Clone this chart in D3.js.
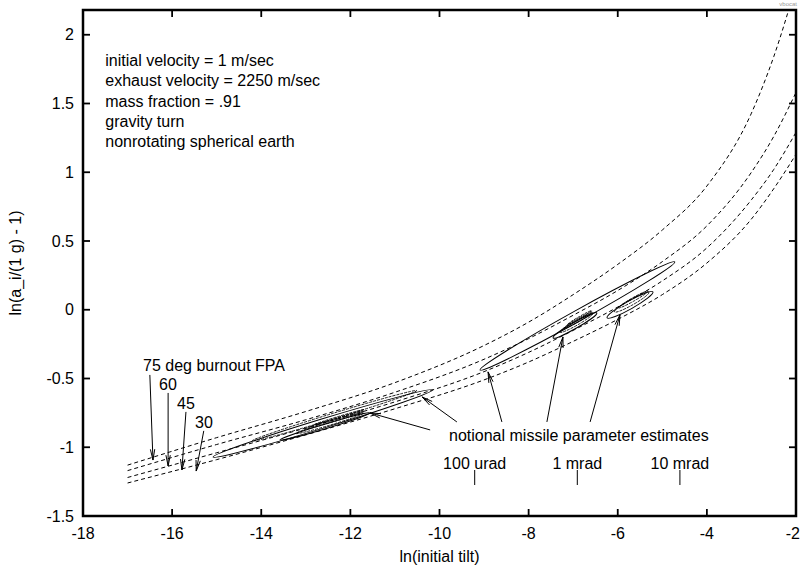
<!DOCTYPE html>
<html><head><meta charset="utf-8">
<script src="https://cdn.jsdelivr.net/npm/d3@7"></script>
<style>body{margin:0;background:#fff}text{font-family:"Liberation Sans",Arial,sans-serif}</style>
</head><body><svg id="c" width="800" height="569"></svg>
<script>
// ---- data ----
const xTicks = [-18,-16,-14,-12,-10,-8,-6,-4,-2];
const yTicks = [-1.5,-1,-0.5,0,0.5,1,1.5,2];
const curveX = [-17,-15,-13,-11,-9,-8,-7,-6,-5,-4,-3,-2.5,-2];
const fpa75 = [-1.13,-0.93,-0.74,-0.53,-0.26,-0.09,0.11,0.33,0.58,0.90,1.43,1.84,2.36];
const fpa60 = [-1.17,-0.98,-0.80,-0.60,-0.36,-0.21,-0.04,0.14,0.35,0.61,1.00,1.26,1.58];
const fpa45 = [-1.22,-1.04,-0.86,-0.67,-0.45,-0.31,-0.15,0.02,0.21,0.45,0.80,1.02,1.29];
const fpa30 = [-1.26,-1.09,-0.91,-0.72,-0.51,-0.38,-0.23,-0.07,0.11,0.34,0.66,0.88,1.13];
const fpaLabels = ["75 deg burnout FPA","60","45","30"];
// arrows for FPA labels: tail -> head (data coords)
const fpaTailX = [-16.50,-16.09,-15.69,-15.29];
const fpaTailY = [-0.474,-0.605,-0.743,-0.881];
const fpaHeadX = [-16.43,-16.09,-15.78,-15.46];
const fpaHeadY = [-1.093,-1.136,-1.165,-1.173];
// missile parameter estimate ellipses: end points (data) and minor/major ratio
const ellX1 = [-15.08,-13.58,-9.09,-7.45,-6.24];
const ellY1 = [-1.071,-0.947,-0.438,-0.205,-0.059];
const ellX2 = [-10.15,-11.56,-4.72,-6.47,-5.21];
const ellY2 = [-0.583,-0.750,0.348,-0.023,0.130];
const ellRatio = [0.04,0.05,0.05,0.12,0.15];
const ellInner = [1,3,0,3,2];
// arrows from "notional missile parameter estimates"
const estTailX = [-10.21,-9.61,-8.60,-7.59,-6.62];
const estTailY = [-0.874,-0.816,-0.816,-0.816,-0.816];
const estHeadX = [-11.56,-10.39,-8.91,-7.23,-5.95];
const estHeadY = [-0.750,-0.634,-0.452,-0.198,-0.037];
// angular marks
const markLabels = ["100 urad","1 mrad","10 mrad"];
const markValues = [1e-4,1e-3,1e-2];
const notes = ["initial velocity = 1 m/sec","exhaust velocity = 2250 m/sec","mass fraction = .91","gravity turn","nonrotating spherical earth"];

// ---- layout ----
const FS = 16;
const svg = d3.select("#c");
const L=83,R=796,T=10,B=516;
const x = d3.scaleLinear().domain([-18,-2]).range([L,R]);
const y = d3.scaleLinear().domain([-1.5,2.18]).range([B,T]);

svg.append("defs").append("clipPath").attr("id","clip")
  .append("rect").attr("x",L).attr("y",T).attr("width",R-L).attr("height",B-T);

// ticks (inward on all four sides)
const tk=7;
const g = svg.append("g").attr("stroke","#000").attr("stroke-width",1.8);
xTicks.forEach(v=>{
  g.append("line").attr("x1",x(v)).attr("x2",x(v)).attr("y1",B).attr("y2",B-tk);
  g.append("line").attr("x1",x(v)).attr("x2",x(v)).attr("y1",T).attr("y2",T+tk);
});
yTicks.forEach(v=>{
  g.append("line").attr("x1",L).attr("x2",L+tk).attr("y1",y(v)).attr("y2",y(v));
  g.append("line").attr("x1",R).attr("x2",R-tk).attr("y1",y(v)).attr("y2",y(v));
});
svg.selectAll(".xl").data(xTicks).enter().append("text")
  .attr("x",d=>d===-2?800:x(d)).attr("y",B+23)
  .attr("text-anchor",d=>d===-2?"end":"middle").attr("font-size",FS)
  .text(d=>d);
svg.selectAll(".yl").data(yTicks).enter().append("text")
  .attr("x",L-9).attr("y",d=>y(d)+5.5).attr("text-anchor","end").attr("font-size",FS)
  .text(d=>d);

svg.append("text").attr("x",(L+R)/2).attr("y",562).attr("text-anchor","middle")
  .attr("font-size",FS).text("ln(initial tilt)");
svg.append("text").attr("transform",`translate(21,${(T+B)/2}) rotate(-90)`)
  .attr("text-anchor","middle").attr("font-size",FS).text("ln(a_i/(1 g) - 1)");

// dashed curves
const plot = svg.append("g").attr("clip-path","url(#clip)");
const line = d3.line().x(d=>x(d[0])).y(d=>y(d[1])).curve(d3.curveMonotoneX);
[fpa75,fpa60,fpa45,fpa30].forEach(s=>{
  plot.append("path").datum(curveX.map((v,i)=>[v,s[i]]))
    .attr("d",line).attr("fill","none").attr("stroke","#000").attr("stroke-width",1)
    .attr("stroke-dasharray","4,3");
});

// ellipses
ellX1.forEach((_,i)=>{
  const px1=x(ellX1[i]),py1=y(ellY1[i]),px2=x(ellX2[i]),py2=y(ellY2[i]);
  const cx=(px1+px2)/2, cy=(py1+py2)/2;
  const a=Math.hypot(px2-px1,py2-py1)/2;
  const ang=Math.atan2(py2-py1,px2-px1)*180/Math.PI;
  const b=a*ellRatio[i];
  plot.append("ellipse").attr("cx",cx).attr("cy",cy).attr("rx",a).attr("ry",b)
    .attr("transform",`rotate(${ang},${cx},${cy})`)
    .attr("fill","none").attr("stroke","#000").attr("stroke-width",1);
  for(let k=1;k<=ellInner[i];k++){
    const f=1-k/(ellInner[i]+1.5);
    plot.append("ellipse").attr("cx",cx+(px2-px1)*0.06*k).attr("cy",cy+(py2-py1)*0.06*k)
      .attr("rx",a*(0.85-0.1*k)).attr("ry",b*f)
      .attr("transform",`rotate(${ang},${cx},${cy})`)
      .attr("fill","none").attr("stroke","#000").attr("stroke-width",0.8)
      .attr("stroke-dasharray","3,1");
  }
});

// arrows
function arrow(x1,y1,x2,y2){
  const X1=x(x1),Y1=y(y1),X2=x(x2),Y2=y(y2);
  svg.append("line").attr("x1",X1).attr("y1",Y1).attr("x2",X2).attr("y2",Y2)
    .attr("stroke","#000").attr("stroke-width",1);
  const th=Math.atan2(Y1-Y2,X1-X2), len=11, sp=0.2;
  [th-sp,th+sp].forEach(t=>{
    svg.append("line").attr("x1",X2).attr("y1",Y2)
      .attr("x2",X2+len*Math.cos(t)).attr("y2",Y2+len*Math.sin(t))
      .attr("stroke","#000").attr("stroke-width",1);
  });
}
fpaTailX.forEach((_,i)=>arrow(fpaTailX[i],fpaTailY[i],fpaHeadX[i],fpaHeadY[i]));
estTailX.forEach((_,i)=>arrow(estTailX[i],estTailY[i],estHeadX[i],estHeadY[i]));

// FPA labels
const fpaLblX=[143,159,177,195], fpaLblY=[371,390,409,428];
fpaLabels.forEach((t,i)=>svg.append("text").attr("x",fpaLblX[i]).attr("y",fpaLblY[i])
  .attr("font-size",FS).text(t));

svg.append("text").attr("x",449).attr("y",441).attr("font-size",FS)
  .text("notional missile parameter estimates");

// angle marks
markValues.forEach((v,i)=>{
  const px=x(Math.log(v));
  svg.append("line").attr("x1",px).attr("x2",px).attr("y1",470).attr("y2",485)
    .attr("stroke","#000").attr("stroke-width",1);
  svg.append("text").attr("x",px).attr("y",469).attr("text-anchor","middle")
    .attr("font-size",FS).text(markLabels[i]);
});

// notes
notes.forEach((t,i)=>svg.append("text").attr("x",x(-17.5)).attr("y",66+i*20.3)
  .attr("font-size",FS).text(t));

// frame
svg.append("rect").attr("x",L).attr("y",T).attr("width",R-L).attr("height",B-T)
  .attr("fill","none").attr("stroke","#000").attr("stroke-width",2.5);

svg.append("text").attr("x",797).attr("y",6).attr("text-anchor","end")
  .attr("font-size",6).attr("fill","#999").text("vbocat");
</script></body></html>
